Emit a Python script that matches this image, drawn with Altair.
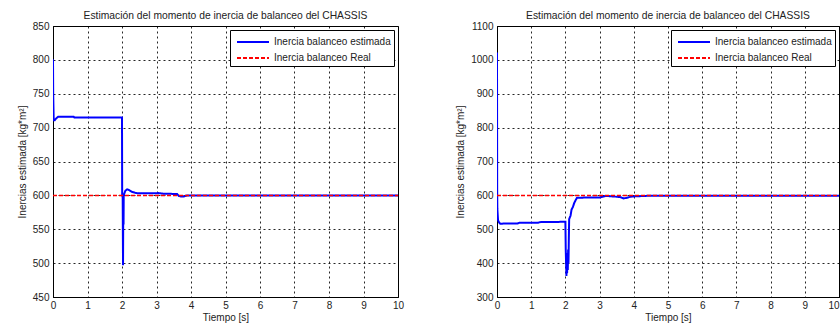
import altair as alt
import pandas as pd

# ---------------- data ----------------
SERIES = ["Inercia balanceo estimada", "Inercia balanceo Real"]
TITLE = "Estimación del momento de inercia de balanceo del CHASSIS"

x_ticks = [0, 1, 2, 3, 4, 5, 6, 7, 8, 9, 10]
left_y_ticks = [450, 500, 550, 600, 650, 700, 750, 800, 850]
right_y_ticks = [300, 400, 500, 600, 700, 800, 900, 1000, 1100]

# left panel: estimated roll inertia
left_t = [0, 0.005, 0.02, 0.05, 0.1, 0.15, 0.6, 0.62, 2.0, 2.005, 2.02, 2.03,
          2.035, 2.04, 2.045, 2.05, 2.06, 2.1, 2.15, 2.2, 2.3, 2.4, 2.5, 3.0,
          3.05, 3.2, 3.6, 3.65, 3.7, 3.8, 3.9, 4.3, 10]
left_v = [801, 752, 711, 711, 714, 716, 716, 715, 715, 600, 597, 497,
          560, 600, 557, 600, 602, 607, 609, 608, 605, 603.5, 603, 603,
          603.5, 602.5, 602, 599, 598.5, 598.5, 600, 600, 600]

# right panel: estimated roll inertia
right_t = [0, 0.005, 0.01, 0.03, 0.06, 0.1, 0.2, 0.6, 0.65, 1.2, 1.25, 2.0,
           2.01, 2.02, 2.03, 2.04, 2.05, 2.06, 2.07, 2.08, 2.09, 2.1, 2.11,
           2.15, 2.18, 2.22, 2.26, 2.3, 2.34, 2.5, 2.55, 3.0, 3.17, 3.25, 3.5,
           3.6, 3.7, 3.8, 3.9, 4.0, 4.5, 10]
right_v = [1022, 615, 560, 527, 520, 516, 517, 517, 519, 519, 521, 522,
           440, 400, 362, 420, 370, 430, 380, 440, 400, 470, 530,
           540, 558, 566, 578, 586, 593, 593, 594, 594, 598, 598, 596,
           595, 591, 593, 596, 597, 599, 599]

# real value (constant reference)
real_t = [0, 10]
real_v = [600, 600]

FONT = "Liberation Sans"


def panel(t, v, y_ticks, width, last_right=False):
    est = pd.DataFrame({"t": t, "v": v, "i": list(range(len(t))), "serie": SERIES[0]})
    real = pd.DataFrame({"t": real_t, "v": real_v, "i": [0, 1], "serie": SERIES[1]})

    xaxis_kw = dict(values=x_ticks, title="Tiempo [s]", format="d")
    if last_right:
        xaxis_kw["labelAlign"] = {"condition": {"test": "datum.value == 10", "value": "right"},
                                  "value": "center"}
    x = alt.X("t:Q", scale=alt.Scale(domain=[x_ticks[0], x_ticks[-1]], nice=False),
              axis=alt.Axis(**xaxis_kw))
    y = alt.Y("v:Q", scale=alt.Scale(domain=[y_ticks[0], y_ticks[-1]], nice=False, zero=False),
              axis=alt.Axis(values=y_ticks, title="Inercias estimada [kg*m²]", format="d"))
    color = alt.Color("serie:N", scale=alt.Scale(domain=SERIES, range=["#0000ff", "#ff0000"]),
                      legend=alt.Legend(title=None, orient="top-right", offset=4))
    dash = alt.StrokeDash("serie:N", scale=alt.Scale(domain=SERIES, range=[[1, 0], [4, 2]]),
                          legend=alt.Legend(title=None, orient="top-right", offset=4))

    l1 = alt.Chart(est).mark_line(strokeWidth=2, clip=True).encode(
        x=x, y=y, color=color, strokeDash=dash, order=alt.Order("i:Q"))
    l2 = alt.Chart(real).mark_line(strokeWidth=1.5, clip=True).encode(
        x=x, y=y, color=color, strokeDash=dash, order=alt.Order("i:Q"))
    return alt.layer(l1, l2).properties(
        width=width, height=271,
        title=alt.TitleParams(TITLE, fontSize=10.3, font=FONT, fontWeight="normal",
                              offset=0, color="#222222"))


left = panel(left_t, left_v, left_y_ticks, 345)
right = panel(right_t, right_v, right_y_ticks, 342, last_right=True)

chart = alt.hconcat(left, right, spacing=50).resolve_scale(
    x="independent", y="independent", color="independent", strokeDash="independent"
).resolve_legend(color="independent", strokeDash="independent").configure(
    padding={"left": 16, "top": 10, "right": 0, "bottom": 0},
    background="white",
).configure_view(
    stroke="black", strokeWidth=1
).configure_axis(
    labelFont=FONT, titleFont=FONT, labelFontSize=10, titleFontSize=10,
    labelColor="#222222", titleColor="#222222", titleFontWeight="normal",
    domainColor="black", ticks=False, labelPadding=4,
    grid=True, gridColor="black", gridDash=[2, 3], gridOpacity=0.85, gridWidth=1,
).configure_axisX(
    titlePadding=2, labelPadding=3, labelFlush=False, titleFontWeight="normal",
).configure_axisY(
    titlePadding=5, labelFlush=False, titleFontWeight="normal",
).configure_legend(
    labelFont=FONT, labelFontSize=10, labelColor="#222222",
    fillColor="white", strokeColor="black", padding=3,
    symbolType="M-2,0H2", symbolSize=256, symbolStrokeWidth=2, symbolOffset=11,
    rowPadding=2, labelOffset=12, cornerRadius=0,
)

chart.save("out.html", embed_options={"renderer": "svg", "actions": False})
